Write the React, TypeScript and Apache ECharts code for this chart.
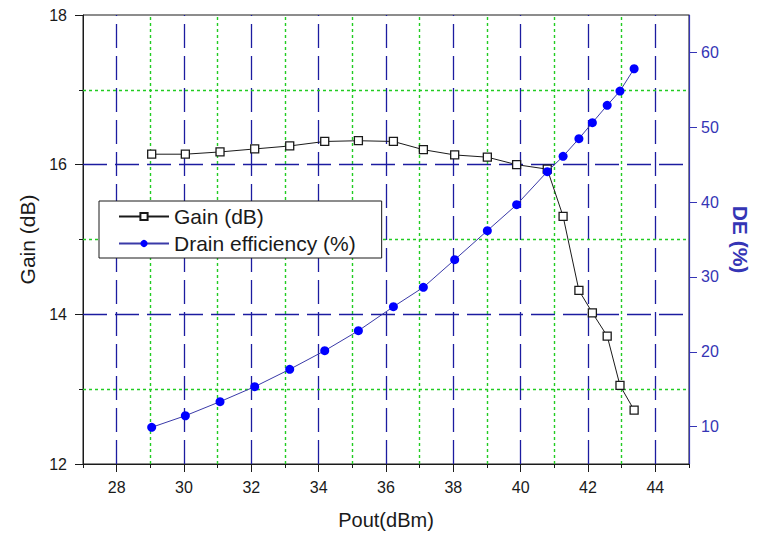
import React, { useEffect, useRef } from "react";
import * as echarts from "echarts";

// Data
const poutDbm = [29.04, 30.04, 31.07, 32.1, 33.14, 34.18, 35.18, 36.22, 37.11, 38.04, 39.01, 39.88, 40.79, 41.26, 41.73, 42.13, 42.57, 42.95, 43.37];
const gainDb = [16.14, 16.14, 16.17, 16.21, 16.25, 16.31, 16.32, 16.31, 16.2, 16.13, 16.1, 16.0, 15.94, 15.31, 14.32, 14.02, 13.71, 13.05, 12.72];
const drainEff = [9.9, 11.45, 13.33, 15.33, 17.65, 20.14, 22.81, 26.02, 28.61, 32.3, 36.18, 39.65, 44.06, 46.12, 48.47, 50.61, 52.93, 54.84, 57.82];

// Tick / grid values
const xMajorTicks = [28, 30, 32, 34, 36, 38, 40, 42, 44];
const xMinorGrid = [29, 31, 33, 35, 37, 39, 41, 43];
const gainMajorGrid = [14, 16];
const gainMinorGrid = [13, 15, 17];
const deTicks = [10, 20, 30, 40, 50, 60];

const FONT = 'Arial, "Liberation Sans", sans-serif';
const BLUE_AXIS = "#3535b5";
const INK = "#1a1a1a";

export default function App() {
  const ref = useRef<HTMLDivElement>(null);

  useEffect(() => {
    if (!ref.current) return;
    const chart = echarts.init(ref.current, undefined, { renderer: "svg" });

    const blueDash = { color: "#1c1ca0", width: 1.3, type: [24, 8] };
    const greenDot = { color: "#22cc22", width: 1.4, type: [3, 3] };

    const gridLines = [
      ...xMajorTicks.map((v) => ({ xAxis: v, lineStyle: blueDash })),
      ...xMinorGrid.map((v) => ({ xAxis: v, lineStyle: greenDot })),
      ...gainMajorGrid.map((v) => ({ yAxis: v, lineStyle: blueDash })),
      ...gainMinorGrid.map((v) => ({ yAxis: v, lineStyle: greenDot })),
    ];

    const option: any = {
      animation: false,
      backgroundColor: "#ffffff",
      textStyle: { fontFamily: FONT },
      grid: {
        left: 83,
        right: 70,
        top: 15,
        bottom: 73,
        show: true,
        borderColor: INK,
        borderWidth: 1,
        backgroundColor: "transparent",
      },
      legend: {
        data: ["Gain (dB)", "Drain efficiency (%)"],
        orient: "vertical",
        left: 99,
        top: 201,
        backgroundColor: "#ffffff",
        borderColor: INK,
        borderWidth: 1,
        borderRadius: 0,
        padding: [5, 26, 4, 19],
        itemWidth: 50,
        itemHeight: 9,
        itemGap: 6,
        textStyle: { fontSize: 21, color: INK, fontFamily: FONT },
      },
      xAxis: [
        {
          type: "value",
          min: 27,
          max: 45,
          position: "bottom",
          axisLine: { show: true, onZero: false, lineStyle: { color: INK, width: 1 } },
          axisTick: { show: true, length: 8, customValues: xMajorTicks, lineStyle: { color: INK } },
          axisLabel: { customValues: xMajorTicks, margin: 15, fontSize: 16, color: INK, fontFamily: FONT },
          splitLine: { show: false },
          name: "Pout(dBm)",
          nameLocation: "middle",
          nameGap: 46,
          nameTextStyle: { fontSize: 20, color: INK, fontFamily: FONT },
        },
        {
          type: "value",
          min: 27,
          max: 45,
          interval: 1,
          position: "bottom",
          axisLine: { show: false, onZero: false },
          axisTick: { show: true, length: 4, lineStyle: { color: INK } },
          axisLabel: { show: false },
          splitLine: { show: false },
        },
      ],
      yAxis: [
        {
          type: "value",
          min: 12,
          max: 18,
          interval: 2,
          position: "left",
          axisLine: { show: true, onZero: false, lineStyle: { color: INK, width: 1 } },
          axisTick: { show: true, length: 8, lineStyle: { color: INK } },
          minorTick: { show: true, splitNumber: 2, length: 4, lineStyle: { color: INK } },
          axisLabel: { margin: 16, fontSize: 16, color: INK, fontFamily: FONT },
          splitLine: { show: false },
          name: "Gain (dB)",
          nameLocation: "middle",
          nameRotate: 90,
          nameGap: 44,
          nameTextStyle: { fontSize: 21, color: INK, fontFamily: FONT },
        },
        {
          type: "value",
          min: 5,
          max: 65,
          position: "right",
          axisLine: { show: true, onZero: false, lineStyle: { color: BLUE_AXIS, width: 1.2 } },
          axisTick: { show: true, length: 8, customValues: deTicks, lineStyle: { color: BLUE_AXIS } },
          axisLabel: { customValues: deTicks, margin: 12, fontSize: 16, color: BLUE_AXIS, fontFamily: FONT },
          splitLine: { show: false },
          name: "DE (%)",
          nameLocation: "middle",
          nameRotate: -90,
          nameGap: 41,
          nameTextStyle: { fontSize: 21, fontWeight: "bold", color: BLUE_AXIS, fontFamily: FONT },
        },
      ],
      series: [
        {
          name: "Gain (dB)",
          type: "line",
          xAxisIndex: 0,
          yAxisIndex: 0,
          data: poutDbm.map((x, i) => [x, gainDb[i]]),
          symbol: "rect",
          symbolSize: 8,
          lineStyle: { color: INK, width: 1 },
          itemStyle: { color: "#ffffff", borderColor: INK, borderWidth: 1.3 },
          z: 4,
          markLine: {
            silent: true,
            symbol: ["none", "none"],
            label: { show: false },
            z: 1,
            animation: false,
            emphasis: { disabled: true },
            data: gridLines,
          },
        },
        {
          name: "Drain efficiency (%)",
          type: "line",
          xAxisIndex: 0,
          yAxisIndex: 1,
          data: poutDbm.map((x, i) => [x, drainEff[i]]),
          symbol: "circle",
          symbolSize: 9,
          lineStyle: { color: "#3a3aa8", width: 1 },
          itemStyle: { color: "#0000ff" },
          z: 5,
        },
      ],
    };

    chart.setOption(option);
    return () => chart.dispose();
  }, []);

  return (
    <div
      ref={ref}
      style={{ position: "absolute", left: 0, top: 0, width: 759, height: 537, background: "#ffffff" }}
    />
  );
}
